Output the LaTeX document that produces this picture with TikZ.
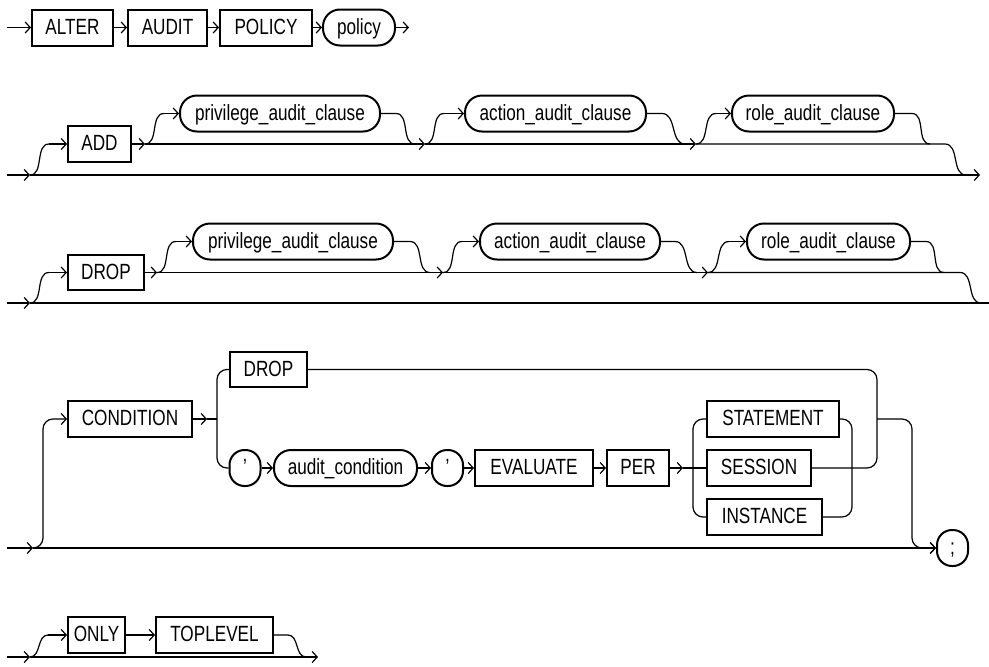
\documentclass[tikz,border=0pt]{standalone}
\usepackage{fontspec}
\setmainfont{Liberation Sans}[FakeStretch=0.78]
\usetikzlibrary{arrows.meta}
\begin{document}
\begin{tikzpicture}[x=1pt,y=-1pt,line width=1.2pt,
  arr/.style={-{Straight Barb[length=5pt,width=11pt]}},
  kw/.style={draw,line width=2pt,inner sep=0pt,minimum height=36pt,
    text height=16pt,text depth=3pt,font=\fontsize{22}{22}\selectfont},
  ph/.style={kw,rounded corners=17pt},
  qt/.style={kw,rounded corners=15pt,minimum width=31pt},
  sc/.style={to path={.. controls ($(\tikztostart)!0.75!(\tikztotarget|-\tikztostart)$) and ($(\tikztotarget)!0.75!(\tikztostart|-\tikztotarget)$) .. (\tikztotarget)}}]
\useasboundingbox (0,0) rectangle (989,667);
% ---------- row 1 ----------
\node[kw,minimum width=81pt] (alter) at (72.5,27.5) {ALTER};
\node[kw,minimum width=79pt] (audit) at (167.5,27.5) {AUDIT};
\node[kw,minimum width=92pt] (policyk) at (266,27.5) {POLICY};
\node[ph,minimum width=72pt] (policy) at (359,27.5) {policy};
\coordinate (s0) at (7,27.5);
\coordinate (e0) at (409,27.5);
\draw[arr] (s0) -- (alter);
\draw[arr] (alter) -- (audit);
\draw[arr] (audit) -- (policyk);
\draw[arr] (policyk) -- (policy);
\draw[arr] (policy) -- (e0);
% ---------- row 2 : ADD ----------
\node[kw,minimum width=63pt] (add) at (99.5,144) {ADD};
\node[ph,minimum width=200pt] (priv1) at (280,113.5) {privilege\_audit\_clause};
\node[ph,minimum width=181pt] (act1) at (555.5,113.5) {action\_audit\_clause};
\node[ph,minimum width=162pt] (role1) at (813,113.5) {role\_audit\_clause};
\coordinate (a0) at (7,175);
\coordinate (a1) at (30,175);
\coordinate (a2) at (49,144);
\coordinate (a3) at (145,144);
\coordinate (a4) at (164,113.5);
\coordinate (a5) at (396,113.5);
\coordinate (a6) at (415,144);
\coordinate (a7) at (425,144);
\coordinate (a8) at (444,113.5);
\coordinate (a9) at (662,113.5);
\coordinate (a10) at (685,144);
\coordinate (a11) at (696,144);
\coordinate (a12) at (716,113.5);
\coordinate (a13) at (912,113.5);
\coordinate (a14) at (930,144);
\coordinate (a15) at (945,144);
\coordinate (a16) at (966,175);
\coordinate (a17) at (980,175);
\draw[arr] (a0) -- (a1);
\draw (a1) to[out=0,in=180] (a2);
\draw[arr] (a2) -- (add);
\draw[arr] (add) -- (a3);
\draw (a3) to[out=0,in=180] (a4);
\draw[arr] (a4) -- (priv1);
\draw (priv1) -- (a5) to[out=0,in=180] (a6);
\draw[arr] (a3) -- (a7);
\draw (a7) to[out=0,in=180] (a8);
\draw[arr] (a8) -- (act1);
\draw (act1) -- (a9) to[out=0,in=180] (a10);
\draw[arr] (a7) -- (a11);
\draw (a11) to[out=0,in=180] (a12);
\draw[arr] (a12) -- (role1);
\draw (role1) -- (a13) to[out=0,in=180] (a14);
\draw (a11) -- (a15) to[out=0,in=180] (a16);
\draw[arr] (a1) -- (a17);
% ---------- row 3 : DROP ----------
\node[kw,minimum width=76pt,minimum height=35pt] (drop1) at (106,272.5) {DROP};
\node[ph,minimum width=200pt] (priv2) at (293,241.5) {privilege\_audit\_clause};
\node[ph,minimum width=180pt] (act2) at (570,241.5) {action\_audit\_clause};
\node[ph,minimum width=163pt] (role2) at (828.5,241.5) {role\_audit\_clause};
\coordinate (d0) at (7,303);
\coordinate (d1) at (30,303);
\coordinate (d2) at (49,272.5);
\coordinate (d3) at (157,272.5);
\coordinate (d4) at (176,241.5);
\coordinate (d5) at (410,241.5);
\coordinate (d6) at (430,272.5);
\coordinate (d7) at (443,272.5);
\coordinate (d8) at (462,241.5);
\coordinate (d9) at (675,241.5);
\coordinate (d10) at (697,272.5);
\coordinate (d11) at (708,272.5);
\coordinate (d12) at (729,241.5);
\coordinate (d13) at (926,241.5);
\coordinate (d14) at (944,272.5);
\coordinate (d15) at (960,272.5);
\coordinate (d16) at (981,303);
\coordinate (d17) at (989,303);
\draw[arr] (d0) -- (d1);
\draw (d1) to[out=0,in=180] (d2);
\draw[arr] (d2) -- (drop1);
\draw[arr] (drop1) -- (d3);
\draw (d3) to[out=0,in=180] (d4);
\draw[arr] (d4) -- (priv2);
\draw (priv2) -- (d5) to[out=0,in=180] (d6);
\draw[arr] (d3) -- (d7);
\draw (d7) to[out=0,in=180] (d8);
\draw[arr] (d8) -- (act2);
\draw (act2) -- (d9) to[out=0,in=180] (d10);
\draw[arr] (d7) -- (d11);
\draw (d11) to[out=0,in=180] (d12);
\draw[arr] (d12) -- (role2);
\draw (role2) -- (d13) to[out=0,in=180] (d14);
\draw (d11) -- (d15) to[out=0,in=180] (d16);
\draw (d1) -- (d17);
% ---------- row 4 : CONDITION ----------
\node[kw,minimum width=124pt] (cond) at (130,419) {CONDITION};
\node[kw,minimum width=77pt,minimum height=35pt] (drop2) at (268.5,369.5) {DROP};
\node[qt] (q1) at (245,468) {'};
\node[ph,minimum width=143pt] (audc) at (345.5,468) {audit\_condition};
\node[qt] (q2) at (447.5,468) {'};
\node[kw,minimum width=118pt] (eval) at (534,468) {EVALUATE};
\node[kw,minimum width=62pt] (per) at (638,468) {PER};
\node[kw,minimum width=132pt] (stmt) at (773,419) {STATEMENT};
\node[kw,minimum width=104pt] (sess) at (759,468) {SESSION};
\node[kw,minimum width=115pt] (inst) at (764.5,517) {INSTANCE};
\node[qt] (semi) at (952.5,548) {;};
\coordinate (c0) at (7,548);
\coordinate (c1) at (33,548);
\coordinate (c2) at (43,419);
\coordinate (c3) at (207,419);
\coordinate (c4) at (217,419);
\coordinate (c5) at (683,468);
\coordinate (c6) at (693,468);
\coordinate (c7) at (852,468);
\coordinate (c8) at (877,419);
\coordinate (c9) at (912,548);
\draw[arr] (c0) -- (c1);
\draw[arr,rounded corners=10pt] (c1) -| (c2) -- (cond);
\draw[arr] (cond) -- (c3);
\draw (c3) -- (c4);
\draw[rounded corners=10pt] (drop2.west) -| (c4) |- (q1.west);
\draw[arr] (q1) -- (audc);
\draw[arr] (audc) -- (q2);
\draw[arr] (q2) -- (eval);
\draw[arr] (eval) -- (per);
\draw[arr] (per) -- (c5);
\draw (c5) -- (sess);
\draw[rounded corners=10pt] (stmt.west) -| (c6) |- (inst.west);
\draw[rounded corners=10pt] (stmt.east) -| (c7) |- (inst.east);
\draw[rounded corners=10pt] (drop2.east) -| (c8) |- (sess.east);
\draw[arr,rounded corners=10pt] (c8) -| (c9) -- (semi);
\draw[arr] (c1) -- (semi);
% ---------- row 5 : ONLY TOPLEVEL ----------
\node[kw,minimum width=57pt] (only) at (96.5,635) {ONLY};
\node[kw,minimum width=117pt] (top) at (214.5,635) {TOPLEVEL};
\coordinate (o0) at (7,657);
\coordinate (o1) at (30,657);
\coordinate (o2) at (48,635);
\coordinate (o3) at (288,635);
\coordinate (o4) at (306,657);
\coordinate (o5) at (318,657);
\draw[arr] (o0) -- (o1);
\draw (o1) to[out=0,in=180] (o2);
\draw[arr] (o2) -- (only);
\draw[arr] (only) -- (top);
\draw (top) -- (o3) to[out=0,in=180] (o4);
\draw[arr] (o1) -- (o5);
\end{tikzpicture}
\end{document}
